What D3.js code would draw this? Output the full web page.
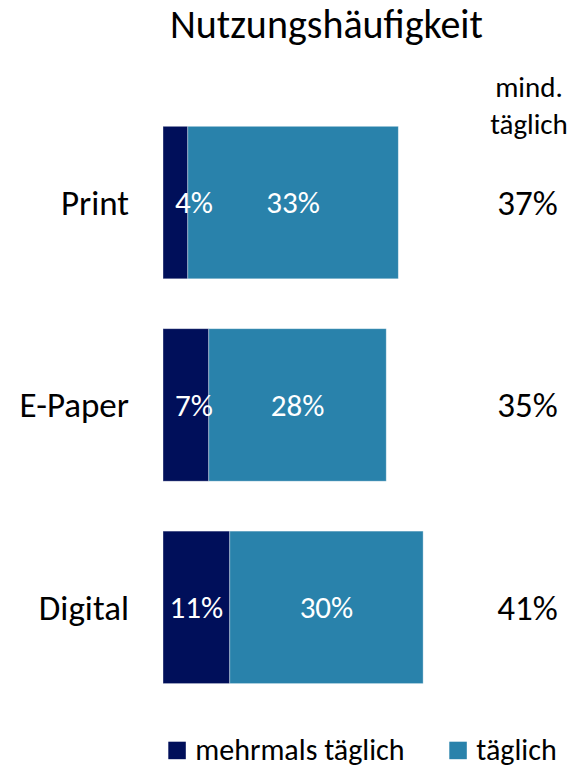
<!DOCTYPE html>
<html><head><meta charset="utf-8">
<script src="https://cdn.jsdelivr.net/npm/d3@7"></script>
<style>
html,body{margin:0;padding:0;background:#fff;}
svg{display:block;font-family:Carlito,Calibri,Lato,"Open Sans",sans-serif;}
</style></head>
<body>
<script>
const categories = ["Print", "E-Paper", "Digital"];
const mehrmalsValues = [3.9, 7.2, 10.5];
const taeglichValues = [33.1, 27.9, 30.4];
const mehrmalsLabels = ["4%", "7%", "11%"];
const taeglichLabels = ["33%", "28%", "30%"];
const totalLabels = ["37%", "35%", "41%"];
const seriesNames = ["mehrmals täglich", "täglich"];
const colors = ["#000f5a", "#2982ab"];
const titleText = "Nutzungshäufigkeit";
const totalHeader = ["mind.", "täglich"];

const W = 573, H = 766;
const svg = d3.select("body").append("svg").attr("width", W).attr("height", H);

const x = d3.scaleLinear().domain([0, 50]).range([163, 163 + 6.36 * 50]);
const y = d3.scaleBand().domain(categories).range([101.35, 708.55]).paddingInner(0.2465).paddingOuter(0.12325);

const rows = categories.map((c, i) => ({
  cat: c,
  segs: [
    {s: 0, x0: 0, x1: mehrmalsValues[i], label: mehrmalsLabels[i]},
    {s: 1, x0: mehrmalsValues[i], x1: mehrmalsValues[i] + taeglichValues[i], label: taeglichLabels[i]}
  ],
  total: totalLabels[i]
}));

// title
svg.append("text").attr("x", 326.5).attr("y", 38).attr("text-anchor", "middle")
  .attr("font-size", 40).attr("fill", "#000").text(titleText);

// header
totalHeader.forEach((t, i) => {
  svg.append("text").attr("x", 529).attr("y", 97 + i * 37).attr("text-anchor", "middle")
    .attr("font-size", 29).attr("fill", "#000").text(t);
});

const g = svg.append("g");
rows.forEach(r => {
  const yc = y(r.cat) + y.bandwidth() / 2;
  r.segs.forEach(s => {
    g.append("rect").attr("x", x(s.x0)).attr("y", y(r.cat))
      .attr("width", x(s.x1) - x(s.x0)).attr("height", y.bandwidth())
      .attr("fill", colors[s.s]).attr("stroke", "rgba(255,255,255,0.45)").attr("stroke-width", 0.8);
  });
  r.segs.forEach(s => {
    const w = x(s.x1) - x(s.x0);
    const t = g.append("text").attr("y", yc).attr("dy", "0.35em")
      .attr("font-size", 31).attr("font-weight", 300).attr("fill", "#fff").text(s.label);
    const tw = t.node().getComputedTextLength();
    if (tw > w - 8) {
      t.attr("x", x(s.x0) + 12).attr("text-anchor", "start");
    } else {
      t.attr("x", (x(s.x0) + x(s.x1)) / 2).attr("text-anchor", "middle");
    }
  });
  svg.append("text").attr("x", 129).attr("y", yc).attr("dy", "0.35em").attr("text-anchor", "end")
    .attr("font-size", 35).attr("fill", "#000").text(r.cat);
  svg.append("text").attr("x", 527.5).attr("y", yc).attr("dy", "0.35em").attr("text-anchor", "middle")
    .attr("font-size", 35).attr("fill", "#000").text(r.total);
});

// legend
const legX = [168.3, 449.3];
seriesNames.forEach((n, i) => {
  svg.append("rect").attr("x", legX[i]).attr("y", 741.7).attr("width", 17.5).attr("height", 17.5).attr("fill", colors[i]);
  svg.append("text").attr("x", legX[i] + 27).attr("y", 760).attr("font-size", 30).attr("fill", "#000").text(n);
});
</script>
</body></html>
